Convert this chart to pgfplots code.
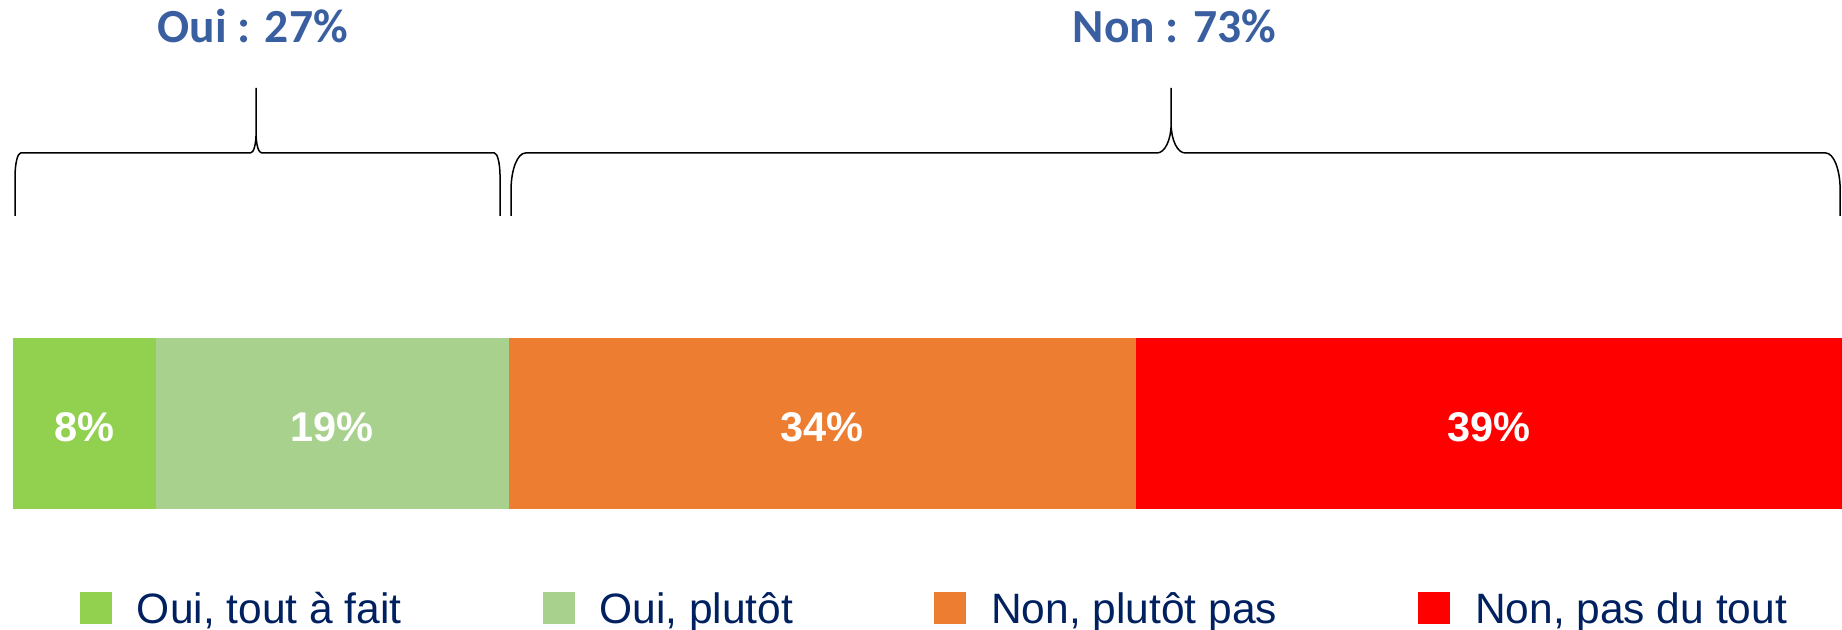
\documentclass[border=0pt]{standalone}
\usepackage{fontspec}
\setmainfont{Liberation Sans}
\newfontfamily\calibri{Carlito}
\usepackage{pgfplots}
\pgfplotsset{compat=1.18}
\definecolor{c1}{HTML}{92D050}
\definecolor{c2}{HTML}{A9D18E}
\definecolor{c3}{HTML}{ED7D31}
\definecolor{c4}{HTML}{FF0000}
\definecolor{navy}{HTML}{002060}
\definecolor{titleblue}{HTML}{3A5FA0}
\pgfplotsset{sqlegend/.style={legend image code/.code={\fill[##1,draw=none] (0pt,-5.8pt) rectangle (12.8pt,7pt);}}}
\begin{document}
\begin{tikzpicture}
\begin{axis}[
  scale only axis, width=736.8pt, height=252pt,
  xmin=-0.711, xmax=100, ymin=0, ymax=630,
  hide axis, clip=false,
  xbar stacked, bar width=68.4pt,
  legend columns=4,
  legend style={draw=none, fill=none, at={(0.0434,0.0047)}, anchor=south west,
    inner sep=0pt, outer sep=0pt,
    font=\fontsize{17}{20}\selectfont\color{navy},
    nodes={inner sep=0pt},
    /tikz/every odd column/.append style={column sep=10pt},
    /tikz/every even column/.append style={column sep=56.4pt}},
]
\path (rel axis cs:0,0) rectangle (rel axis cs:1,1);
\addplot[fill=c1, draw=none, sqlegend] coordinates {(7.8,206.5)};
\addplot[fill=c2, draw=none, sqlegend] coordinates {(19.3,206.5)};
\addplot[fill=c3, draw=none, sqlegend] coordinates {(34.3,206.5)};
\addplot[fill=c4, draw=none, sqlegend] coordinates {(38.6,206.5)};
\legend{Oui{,} tout à fait, Oui{,} plutôt, Non{,} plutôt pas, Non{,} pas du tout}

\coordinate (l1) at (axis cs:3.9,188);
\coordinate (l2) at (axis cs:17.45,188);
\coordinate (l3) at (axis cs:44.25,188);
\coordinate (l4) at (axis cs:80.7,188);

\draw[line width=0.6pt] (axis cs:0.11,414) -- (axis cs:0.11,453) .. controls (axis cs:0.11,466.3) and (axis cs:0.249,477) .. (axis cs:0.42,477) -- (axis cs:12.98,477) .. controls (axis cs:13.16,477) and (axis cs:13.29,485.5) .. (axis cs:13.29,497) -- (axis cs:13.29,542) -- (axis cs:13.29,497) .. controls (axis cs:13.29,485.5) and (axis cs:13.42,477) .. (axis cs:13.60,477) -- (axis cs:26.32,477) .. controls (axis cs:26.49,477) and (axis cs:26.63,466.3) .. (axis cs:26.63,453) -- (axis cs:26.63,414);

\draw[line width=0.6pt] (axis cs:27.23,414) -- (axis cs:27.23,440) .. controls (axis cs:27.23,460.4) and (axis cs:27.584,477) .. (axis cs:28.02,477) -- (axis cs:62.55,477) .. controls (axis cs:62.975,477) and (axis cs:63.32,490) .. (axis cs:63.32,506) -- (axis cs:63.32,542) -- (axis cs:63.32,506) .. controls (axis cs:63.32,490) and (axis cs:63.665,477) .. (axis cs:64.09,477) -- (axis cs:99.11,477) .. controls (axis cs:99.546,477) and (axis cs:99.9,460.4) .. (axis cs:99.9,440) -- (axis cs:99.9,414);

\node[font=\calibri\bfseries\fontsize{19}{23}\selectfont, text=titleblue, anchor=base] at (axis cs:13.1,587) {Oui : 27\%};
\node[font=\calibri\bfseries\fontsize{19}{23}\selectfont, text=titleblue, anchor=base] at (axis cs:63.5,587) {Non : 73\%};
\end{axis}
\tikzset{lab/.style={font=\bfseries\fontsize{16.6}{20}\selectfont, text=white, anchor=base}}
\node[lab] at (l1) {8\%};
\node[lab] at (l2) {19\%};
\node[lab] at (l3) {34\%};
\node[lab] at (l4) {39\%};
\end{tikzpicture}
\end{document}
